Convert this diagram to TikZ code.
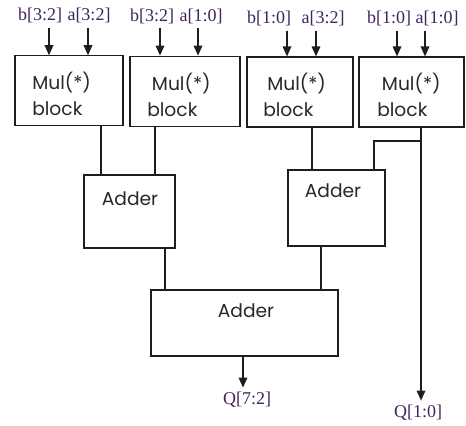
\documentclass[tikz,border=0pt]{standalone}
\usepackage{fontspec}
\setmainfont{Liberation Serif}
\newfontfamily\blockfont{Poppins}
\usetikzlibrary{arrows.meta}
\definecolor{sigcolor}{RGB}{65,35,95}
\definecolor{linecolor}{RGB}{30,30,30}
\definecolor{textcolor}{RGB}{40,40,40}
\tikzstyle{block} = [rectangle, draw=linecolor, line width=0.9pt, fill=white, inner sep=0pt]
\tikzstyle{blocktext} = [font=\blockfont\fontsize{14}{19}\selectfont, text=textcolor, align=left, inner sep=0pt]
\tikzstyle{sig} = [font=\fontsize{13.5}{15}\selectfont, text=sigcolor]
\tikzstyle{wire} = [line width=0.9pt, draw=linecolor]
\tikzstyle{arrow} = [wire, -{Triangle[length=7.5pt,width=6.5pt]}]

\begin{document}
\begin{tikzpicture}[x=0.75pt, y=-0.75pt]
\useasboundingbox (0,0) rectangle (466,425);

% Mul blocks
\node[block, minimum width=81pt, minimum height=52pt] (m1) at (69,90.5) {};
\node[block, minimum width=82.5pt, minimum height=53pt] (m2) at (185,91.5) {};
\node[block, minimum width=79.5pt, minimum height=52.5pt] (m3) at (300,92) {};
\node[block, minimum width=78.75pt, minimum height=52.5pt] (m4) at (411.5,92) {};
\node[blocktext, anchor=west] (t1) at (32,94) {Mul(*)\\block};
\node[blocktext, anchor=west] (t2) at (147,95) {\hspace{3.5pt}Mul(*)\\block};
\node[blocktext, anchor=west] (t3) at (263,95) {\hspace{3pt}Mul(*)\\block};
\node[blocktext, anchor=west] (t4) at (377,95) {\hspace{3.5pt}Mul(*)\\block};

% Inputs
\node[sig] (b1) at (40,15.5) {b[3:2]};
\node[sig] (a1) at (89,15.5) {a[3:2]};
\node[sig] (b2) at (152,16) {b[3:2]};
\node[sig] (a2) at (201,16) {a[1:0]};
\node[sig] (b3) at (269,18.5) {b[1:0]};
\node[sig] (a3) at (323,18.5) {a[3:2]};
\node[sig] (b4) at (389,18.5) {b[1:0]};
\node[sig] (a4) at (437,18.5) {a[1:0]};

\draw[arrow] (49,0 |- b1.south) -- (49,0 |- m1.north);
\draw[arrow] (88,0 |- a1.south) -- (88,0 |- m1.north);
\draw[arrow] (160,0 |- b2.south) -- (160,0 |- m2.north);
\draw[arrow] (198,0 |- a2.south) -- (198,0 |- m2.north);
\draw[arrow] (287,0 |- b3.south) -- (287,0 |- m3.north);
\draw[arrow] (316,0 |- a3.south) -- (316,0 |- m3.north);
\draw[arrow] (397,0 |- b4.south) -- (397,0 |- m4.north);
\draw[arrow] (425,0 |- a4.south) -- (425,0 |- m4.north);

% Adders
\node[block, minimum width=68.25pt, minimum height=54.75pt] (add1) at (129.5,211.5) {};
\node[blocktext] (ta1) at (130,199) {Adder};
\node[block, minimum width=72.75pt, minimum height=57pt] (add2) at (336.5,208) {};
\node[blocktext] (ta2) at (333,191) {Adder};
\node[block, minimum width=140.25pt, minimum height=49.5pt] (add3) at (244.5,323) {};
\node[blocktext] (ta3) at (246,311) {Adder};

% Outputs
\node[sig] (q72) at (247,400) {Q[7:2]};
\node[sig] (q10) at (418,413) {Q[1:0]};

% Connections
\draw[wire] (101,0 |- m1.south) -- (101,0 |- add1.north);
\draw[wire] (155,0 |- m2.south) -- (155,0 |- add1.north);
\draw[wire] (312,0 |- m3.south) -- (312,0 |- add2.north);
\coordinate (split) at (421,141);
\draw[arrow] (split |- m4.south) -- (split |- q10.north);
\draw[wire] (split) -- (374,141) -- (374,0 |- add2.north);
\draw[wire] (165,0 |- add1.south) -- (165,0 |- add3.north);
\draw[wire] (321,0 |- add2.south) -- (321,0 |- add3.north);
\draw[arrow] (243,0 |- add3.south) -- (243,0 |- q72.north);

\end{tikzpicture}
\end{document}
